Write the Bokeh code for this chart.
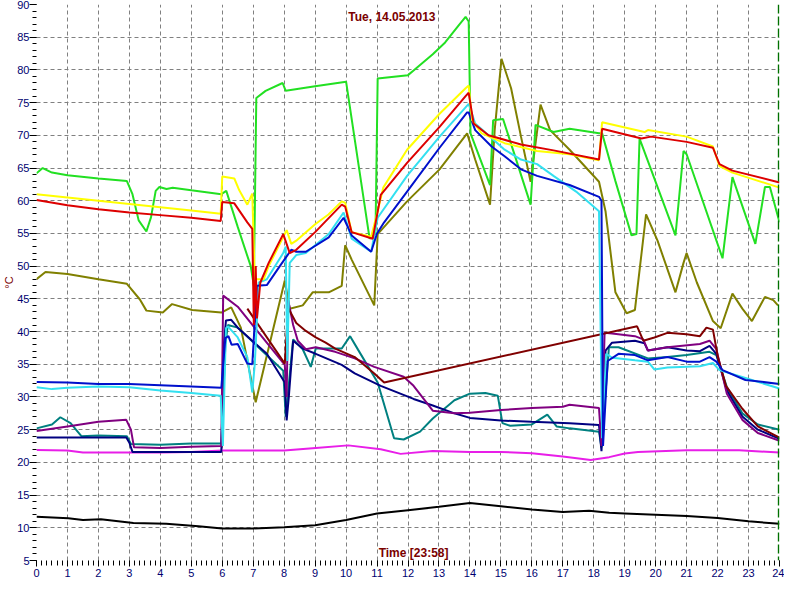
from bokeh.plotting import figure
from bokeh.models import Range1d, FixedTicker, Label, Span, Title
from bokeh.embed import file_html
from bokeh.resources import INLINE

# ---- data (hours, °C) ----
green_t = [0, 0.2, 0.5, 1, 2, 2.92, 3.1, 3.3, 3.55, 3.7, 3.85, 3.97, 4.2, 4.4, 5, 5.97, 6.13, 6.5, 6.92, 7.02,
           7.1, 7.4, 7.95, 8.05, 9, 10.0, 10.76, 10.95, 11.02, 12.0, 12.18, 12.8, 13.2, 13.65, 13.86, 13.96,
           14.02, 14.65, 14.75, 15.07, 15.96, 16.12, 16.7, 17.22, 18.17, 18.27, 18.7, 19.22, 19.38, 19.48,
           20.64, 20.9, 21.0, 22.16, 22.48, 23.22, 23.53, 23.69, 24.0]
green_v = [64.2, 65.0, 64.3, 63.9, 63.4, 63.0, 61.0, 57.0, 55.3, 57.5, 61.5, 62.1, 61.8, 62.0, 61.6, 61.0, 61.5, 56.0, 50.0, 47.0,
           75.7, 76.8, 78.0, 76.8, 77.5, 78.2, 54.2, 55.0, 78.7, 79.2, 79.9, 82.4, 84.2, 86.9, 88.1, 87.4,
           70.3, 62.4, 72.3, 72.5, 59.4, 71.6, 70.5, 71.0, 70.3, 70.3, 63.0, 54.7, 54.9, 69.5,
           54.7, 67.6, 67.1, 51.2, 63.6, 53.4, 62.1, 62.1, 56.7]

yellow_t = [0, 1, 2, 3, 4, 5, 5.95, 6.0, 6.39, 6.55, 6.81, 6.97, 7.05, 7.34, 7.5, 8.08, 8.23, 8.39, 9.0, 9.43,
            9.86, 9.97, 10.18, 10.81, 11.02, 11.2, 11.97, 13.02, 13.86, 13.96, 14.07, 14.38, 15.12, 16.17,
            17.22, 18.17, 18.27, 19.64, 19.75, 21.0, 21.85, 22.06, 22.48, 24.0]
yellow_v = [61.0, 60.5, 60.0, 59.5, 59.0, 58.5, 58.0, 63.7, 63.4, 61.6, 59.4, 61.1, 48.0, 48.0, 50.0, 55.5, 53.4, 53.9, 56.4, 57.9,
            59.9, 59.7, 55.2, 54.5, 58.4, 62.0, 67.8, 73.3, 77.2, 77.6, 72.3, 70.3, 68.8, 67.6,
            67.1, 66.2, 72.0, 70.5, 70.8, 69.8, 68.3, 65.3, 64.3, 62.0]

red_t = [0, 1, 2, 3, 4, 5, 5.95, 6.0, 6.39, 6.81, 6.97, 7.02, 7.08, 7.12, 7.23, 7.5, 7.97, 8.18, 8.39, 9.0,
         9.86, 9.97, 10.18, 10.86, 11.12, 11.97, 13.02, 13.86, 13.96, 14.12, 14.6, 15.65, 16.7, 18.17,
         18.27, 19.54, 19.85, 21.0, 21.85, 22.06, 22.48, 24.0]
red_v = [60.1, 59.3, 58.7, 58.2, 57.8, 57.4, 56.9, 59.8, 59.6, 56.7, 55.7, 41.0, 50.0, 42.0, 47.5, 50.5, 54.9, 52.0, 52.5, 55.2,
         59.4, 59.1, 55.2, 54.2, 60.9, 65.8, 71.3, 76.0, 76.5, 71.8, 70.0, 68.6, 67.7, 66.3,
         71.0, 69.5, 69.8, 69.0, 68.1, 65.6, 64.6, 62.8]

cyan_t = [0, 0.5, 1, 2, 3, 4, 5, 5.95, 6.02, 6.12, 6.18, 6.5, 6.81, 6.97, 7.05, 7.18, 7.44, 7.97, 8.05, 8.1,
          8.18, 8.39, 8.7, 9.44, 9.92, 10.18, 10.81, 11.02, 11.97, 13.02, 13.96, 14.17, 14.7, 15.12, 15.65,
          16.17, 16.7, 17.43, 18.17, 18.27, 18.4, 18.6, 19.33, 19.75, 19.96, 20.38, 21.43, 21.85, 22.06,
          22.9, 24.0]
cyan_v = [31.5, 31.2, 31.4, 31.6, 31.5, 31.0, 30.6, 30.2, 22.5, 40.5, 40.8, 39.1, 36.1, 30.7, 35.0, 47.5, 48.0, 52.0, 53.0, 35.5,
          50.5, 51.7, 52.0, 54.9, 58.2, 54.2, 52.2, 57.4, 63.8, 69.8, 74.8, 71.8, 69.6, 67.8, 66.3,
          65.6, 63.8, 61.4, 58.4, 23.7, 36.6, 36.0, 35.6, 35.4, 34.2, 34.5, 34.7, 35.2, 34.1,
          32.9, 31.3]

blue_t = [0, 1, 2, 3, 4, 5, 5.97, 6.1, 6.2, 6.3, 6.5, 6.81, 6.97, 7.12, 7.44, 7.86, 8.23, 8.39, 8.7, 9.44,
          9.92, 10.18, 10.81, 11.0, 11.23, 11.97, 13.02, 13.91, 13.96, 14.17, 14.7, 15.12, 15.65, 16.17,
          17.22, 18.17, 18.25, 18.3, 18.45, 18.8, 19.33, 19.75, 20.38, 21.0, 21.43, 21.74, 21.96, 22.16,
          22.9, 24.0]
blue_v = [32.3, 32.2, 32.0, 32.0, 31.8, 31.6, 31.4, 39.0, 39.3, 38.0, 38.1, 35.1, 35.0, 47.0, 47.1, 50.0, 52.5, 52.2, 52.2, 54.4,
          57.4, 54.7, 52.2, 55.0, 56.7, 61.4, 68.1, 73.5, 73.5, 70.8, 68.3, 66.8, 64.8, 63.8,
          62.4, 60.6, 60.0, 22.5, 35.5, 36.6, 36.4, 35.6, 36.1, 35.4, 35.4, 36.1, 35.4, 34.1,
          32.6, 32.0]

olive_t = [0, 0.29, 1, 2, 2.92, 3.34, 3.55, 4.08, 4.38, 5.03, 5.97, 6.29, 6.6, 7.08, 8.02, 8.18, 8.6, 8.92, 9.44,
           9.86, 9.97, 10.18, 10.91, 11.02, 11.23, 11.97, 13.02, 13.91, 14.17, 14.65, 14.8, 15.02, 15.33,
           15.65, 15.96, 16.28, 16.59, 17.22, 18.17, 18.38, 18.7, 19.06, 19.33, 19.69, 20.06, 20.64, 20.9,
           21.0, 21.33, 21.85, 22.1, 22.48, 22.8, 23.11, 23.53, 23.8, 23.95]
olive_v = [48.0, 49.1, 48.8, 48.0, 47.3, 44.9, 43.2, 42.9, 44.2, 43.3, 42.9, 43.7, 40.6, 29.2, 47.8, 43.5, 44.0, 46.0, 46.0,
           47.0, 53.2, 51.0, 44.0, 54.9, 56.0, 59.9, 64.8, 70.3, 66.3, 59.4, 70.8, 81.7, 77.2,
           69.8, 62.9, 74.7, 70.8, 67.8, 62.9, 58.4, 46.0, 42.8, 43.3, 57.9, 53.9, 46.0, 50.5,
           52.0, 47.5, 41.6, 40.5, 45.8, 43.5, 41.6, 45.3, 44.8, 44.0]

maroon_t = [6.81, 8.02, 8.13, 8.39, 8.7, 9.02, 9.34, 9.65, 10.28, 10.91, 11.23, 19.4, 19.6, 19.96, 20.38,
            21.0, 21.43, 21.64, 21.85, 22.01, 22.27, 22.8, 23.3, 24.0]
maroon_v = [43.5, 35.1, 43.6, 41.3, 40.1, 39.1, 38.3, 37.4, 36.1, 33.6, 32.2, 40.8, 38.6, 39.1, 39.8,
            39.6, 39.3, 40.6, 40.3, 36.1, 31.7, 28.2, 25.5, 23.8]

purple_t = [0, 1, 2, 2.9, 3.05, 3.15, 4, 5, 5.97, 6.03, 6.5, 8.02, 8.08, 8.13, 8.29, 8.44, 8.7, 9.02, 9.65,
            10.28, 10.91, 11.86, 12.18, 12.8, 13.5, 14.0, 15.0, 16.0, 17.0, 17.22, 18.17, 18.25, 18.35,
            18.59, 19.33, 19.6, 19.75, 20.38, 21.43, 21.74, 21.96, 22.3, 22.8, 23.3, 24.0]
purple_v = [24.8, 25.5, 26.2, 26.5, 25.0, 22.3, 22.2, 22.4, 22.5, 45.5, 43.8, 34.9, 30.0, 44.8, 41.0, 38.6, 37.3, 37.6, 36.9,
            35.9, 34.6, 33.1, 31.7, 27.9, 27.5, 27.6, 28.0, 28.3, 28.5, 28.8, 28.3, 22.5, 39.8,
            39.7, 39.3, 38.8, 37.1, 37.6, 38.1, 38.6, 37.3, 30.5, 26.5, 24.5, 23.3]

navy_t = [0, 2.9, 3.0, 3.1, 4, 5, 5.97, 6.05, 6.12, 6.29, 6.5, 7.44, 8.02, 8.08, 8.15, 8.29, 8.6, 9.02, 9.86,
          10.28, 11.12, 12.18, 12.8, 13.5, 14.0, 15.0, 16.0, 17.22, 18.17, 18.25, 18.38, 18.59, 19.33,
          19.64, 19.75, 20.38, 21.0, 21.43, 21.74, 21.96, 22.3, 22.8, 23.3, 24.0]
navy_v = [23.8, 23.8, 23.0, 21.6, 21.6, 21.6, 21.6, 38.0, 41.7, 41.8, 40.6, 36.6, 32.2, 26.4, 30.0, 38.6, 37.4, 36.6, 34.9,
          33.6, 31.7, 29.7, 28.7, 27.5, 26.8, 26.4, 26.2, 26.0, 25.7, 21.7, 37.1, 38.3, 38.6,
          38.2, 37.1, 37.6, 37.1, 37.0, 37.8, 36.6, 31.0, 27.0, 25.0, 23.6]

teal_t = [0, 0.5, 0.77, 1.1, 1.45, 2, 2.92, 3.05, 4, 5, 5.97, 6.1, 6.18, 6.5, 7.97, 8.05, 8.29, 8.6, 8.86, 9.02,
          9.86, 10.13, 10.39, 11.02, 11.55, 11.86, 12.39, 12.8, 13.5, 14.0, 14.5, 14.9, 15.05, 15.3, 16.0,
          16.5, 16.8, 17.22, 18.17, 18.25, 18.49, 18.8, 19.75, 20.38, 21.0, 21.74, 21.96, 22.3, 22.8,
          23.3, 24.0]
teal_v = [25.2, 25.8, 26.9, 26.0, 24.0, 24.1, 24.0, 22.8, 22.7, 22.9, 22.9, 38.0, 41.0, 40.6, 34.0, 27.0, 38.8, 37.3, 34.6, 37.4,
          37.4, 39.3, 37.2, 32.2, 23.7, 23.5, 24.7, 26.7, 29.5, 30.5, 30.6, 30.2, 26.0, 25.6, 25.8,
          27.3, 25.5, 25.2, 24.7, 22.3, 37.6, 37.6, 35.9, 36.1, 36.4, 36.9, 36.4, 31.5, 27.5,
          25.8, 25.0]

magenta_t = [0, 1, 1.5, 3, 4, 5, 6, 7, 8, 9.02, 10.07, 11.12, 11.76, 12.8, 14, 15, 16, 17, 17.9, 18.5,
             19.0, 19.43, 21.0, 22.7, 24.0]
magenta_v = [21.9, 21.8, 21.5, 21.5, 21.5, 21.6, 21.8, 21.8, 21.8, 22.2, 22.6, 22.0, 21.3, 21.75, 21.6, 21.6, 21.4, 20.9, 20.35, 20.8,
             21.35, 21.6, 21.85, 21.85, 21.5]

black_t = [0, 1.03, 1.5, 2.08, 3.13, 4.19, 5.23, 6, 7, 8, 9, 10, 11, 12, 13, 14, 15, 16, 17, 17.85, 18.5,
           19, 20, 21, 22, 23, 24]
black_v = [11.7, 11.45, 11.2, 11.3, 10.75, 10.6, 10.25, 9.9, 9.9, 10.1, 10.4, 11.2, 12.2, 12.7, 13.2, 13.8, 13.3, 12.8, 12.4, 12.6, 12.3,
           12.2, 12.0, 11.8, 11.5, 11.0, 10.6]

hour_ticks = list(range(0, 25))
temp_ticks = list(range(5, 91, 5))
title_text = "Tue, 14.05.2013"
xlabel_text = "Time [23:58]"
ylabel_text = "°C"
cursor_hour = 23.97

series = [
    (black_t, black_v, "#000000"),
    (magenta_t, magenta_v, "#e81ee8"),
    (olive_t, olive_v, "#808000"),
    (teal_t, teal_v, "#008080"),
    (navy_t, navy_v, "#000080"),
    (purple_t, purple_v, "#800080"),
    (maroon_t, maroon_v, "#800000"),
    (green_t, green_v, "#22e022"),
    (cyan_t, cyan_v, "#33e0f0"),
    (blue_t, blue_v, "#0010cc"),
    (yellow_t, yellow_v, "#ffff00"),
    (red_t, red_v, "#dd0000"),
]

p = figure(width=784, height=584, x_range=Range1d(0, 24), y_range=Range1d(5, 90),
           output_backend="svg", toolbar_location=None,
           min_border_left=0, min_border_right=5, min_border_top=4, min_border_bottom=24)
p.outline_line_color = None
p.background_fill_color = "white"
p.border_fill_color = "white"

# y-axis unit as a left-side title
p.add_layout(Title(text=ylabel_text, align="center", text_color="#7a0000",
                   text_font="Liberation Sans", text_font_size="11px", text_line_height=0.9,
                   text_font_style="normal", standoff=0, offset=0), "left")

# axes
p.xaxis.ticker = FixedTicker(ticks=hour_ticks, minor_ticks=[i / 6 for i in range(0, 145)])
p.yaxis.ticker = FixedTicker(ticks=temp_ticks, minor_ticks=list(range(5, 91)))
for ax in (p.xaxis[0], p.yaxis[0]):
    ax.axis_line_color = None
    ax.major_tick_in = 0
    ax.minor_tick_in = 0
    ax.major_tick_line_color = "black"
    ax.minor_tick_line_color = "black"
    ax.major_label_text_color = "#000070"
    ax.major_label_text_font = "Liberation Sans"
    ax.major_label_text_font_size = "11px"
    ax.major_label_standoff = 2
p.yaxis.major_tick_out = 7
p.yaxis.minor_tick_out = 4
p.yaxis.major_label_standoff = 0
p.xaxis.major_tick_out = 6
p.xaxis.minor_tick_out = 5

# grid (interior only)
p.xgrid.ticker = FixedTicker(ticks=hour_ticks[1:-1])
p.ygrid.ticker = FixedTicker(ticks=temp_ticks[1:-1])
for g in (p.xgrid[0], p.ygrid[0]):
    g.grid_line_color = "#808080"
    g.grid_line_dash = "4 3"
    g.grid_line_width = 1

for t, v, c in series:
    p.line(t, v, line_color=c, line_width=2)

p.add_layout(Span(location=cursor_hour, dimension="height", line_color="#007000",
                  line_dash="9 3", line_width=1.5))

p.add_layout(Label(x=11.48, y=88.1, text=title_text, text_align="center", text_baseline="middle",
                   text_color="#7a0000", text_font="Liberation Sans", text_font_style="bold",
                   text_font_size="12px"))
p.add_layout(Label(x=12.18, y=6.2, text=xlabel_text, text_align="center", text_baseline="middle",
                   text_color="#7a0000", text_font="Liberation Sans", text_font_style="bold",
                   text_font_size="12px"))

open("out.html", "w").write(file_html(p, INLINE))
